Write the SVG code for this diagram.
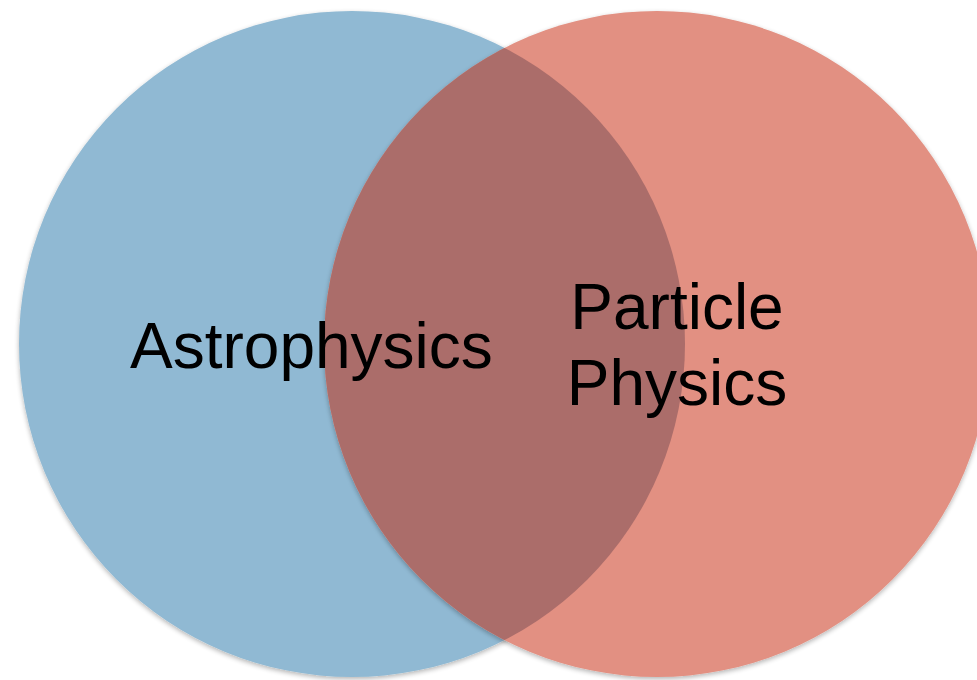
<svg xmlns="http://www.w3.org/2000/svg" width="977" height="680" viewBox="0 0 977 680">
<defs>
<filter id="sh" x="-10%" y="-10%" width="120%" height="120%">
<feGaussianBlur in="SourceAlpha" stdDeviation="2.5"/>
<feOffset dx="0" dy="2" result="b"/>
<feComponentTransfer><feFuncA type="linear" slope="0.3"/></feComponentTransfer>
<feMerge><feMergeNode/><feMergeNode in="SourceGraphic"/></feMerge>
</filter>
<clipPath id="blueClip"><circle cx="352" cy="344" r="333"/></clipPath>
</defs>
<style>
text{font-family:"Liberation Sans",Arial,sans-serif;font-size:64px;fill:#000}
</style>
<rect width="977" height="680" fill="#fff"/>
<g id="astrophysics">
<circle cx="352" cy="344" r="333" fill="#90B9D3" filter="url(#sh)"/>
</g>
<g id="particle-physics">
<circle cx="657" cy="344" r="333" fill="#E29082" filter="url(#sh)"/>
<circle cx="657" cy="344" r="333" fill="#AB6D6A" clip-path="url(#blueClip)"/>
</g>
<g id="labels">
<text x="130" y="368">Astrophysics</text>
<text x="677" y="329" text-anchor="middle">Particle</text>
<text x="677" y="405" text-anchor="middle">Physics</text>
</g>
</svg>
